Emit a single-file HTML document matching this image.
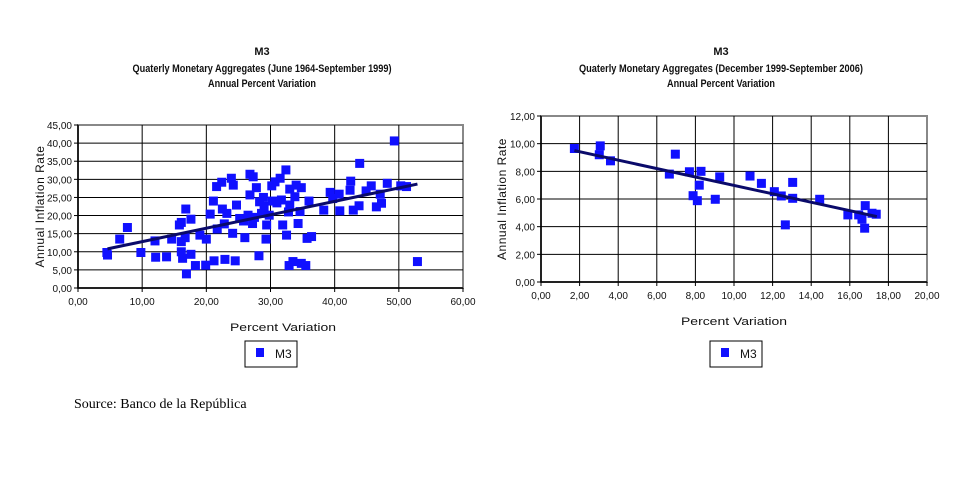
<!DOCTYPE html>
<html><head><meta charset="utf-8"><style>
body{margin:0;background:#fff;width:968px;height:487px;overflow:hidden}
svg{position:absolute;left:0;top:0}
</style></head><body>
<svg id="s" width="968" height="487" font-family="'Liberation Sans', Arial, sans-serif">
<text x="74" y="408" font-family="'Liberation Serif', serif" font-size="14">Source: Banco de la República</text>
</svg>
<script>
// Left chart data
const leftX=[4.6,4.5,6.5,7.7,9.8,12,12.1,13.8,14.6,15.8,16.1,16.8,16.7,16.1,16.1,16.3,16.9,17.6,17.6,18.3,19,20,19.9,20.6,21.1,21.2,21.6,22.4,21.7,22.5,22.8,22.9,23.2,23.9,24.2,24.1,24.5,24.7,25.2,26,26.5,26.8,27.3,26.8,27.2,27.8,28.2,28.3,28.6,29.3,29.4,29.8,30.2,30.3,30.7,31.5,31.7,31.9,32.4,32.5,32.9,33,33,33.5,33.8,34,34.3,34.6,34.8,34.8,35.5,35.7,36,36.4,38.3,39.3,39.7,40.7,40.8,42.5,42.4,42.9,43.8,43.9,44.9,45.7,46.5,47.3,47.1,48.2,49.3,50.3,51.2,52.9,27.5,29,31,32.8,25.8,28.9];
const leftY=[9.1,9.8,13.5,16.7,9.8,13,8.5,8.6,13.5,17.4,18.1,21.8,13.9,12.8,10,8.2,3.9,19,9.3,6.2,14.6,13.5,6.3,20.4,24,7.5,28,29.2,16.3,21.8,17.7,7.9,20.6,30.3,28.4,15.1,7.5,22.9,19.2,13.9,20.1,31.4,30.7,25.7,17.8,27.7,8.9,23.8,20.6,13.5,17.4,20.1,28.2,24,29.3,30.3,24.3,17.4,32.6,14.6,6.2,27.3,22.9,7.3,25.2,28.4,17.8,21.1,27.7,6.8,6.2,13.7,24,14.2,21.5,26.4,24.7,25.9,21.3,29.5,27,21.5,22.7,34.4,26.8,28.2,22.4,23.4,25.9,28.9,40.6,28.2,28,7.3,19.5,22.5,23.5,21,18.5,25];
const leftTrend=[[4.6,10.8],[52.9,28.7]];
const leftXTicks=["0,00","10,00","20,00","30,00","40,00","50,00","60,00"];
const leftYTicks=["0,00","5,00","10,00","15,00","20,00","25,00","30,00","35,00","40,00","45,00"];
// Right chart data
const rightX=[1.73,3.07,3.02,3.6,6.65,6.96,7.69,8.29,8.2,7.88,8.1,9.03,9.26,10.83,11.42,12.09,12.45,13.04,13.04,12.66,14.44,15.9,16.46,16.63,16.8,16.77,17.15,17.37];
const rightY=[9.65,9.84,9.2,8.76,7.8,9.24,7.97,8.0,7.0,6.24,5.88,5.98,7.6,7.66,7.13,6.53,6.22,7.2,6.05,4.13,5.98,4.85,4.85,4.54,5.52,3.89,4.97,4.9];
const rightTrend=[[1.73,9.5],[17.4,4.73]];
const rightXTicks=["0,00","2,00","4,00","6,00","8,00","10,00","12,00","14,00","16,00","18,00","20,00"];
const rightYTicks=["0,00","2,00","4,00","6,00","8,00","10,00","12,00"];

const NS="http://www.w3.org/2000/svg";
const svg=document.getElementById('s');
function mk(tag,attrs,parent){const e=document.createElementNS(NS,tag);for(const k in attrs)e.setAttribute(k,attrs[k]);(parent||svg).appendChild(e);return e;}
function txt(s,attrs,parent){const e=mk('text',attrs,parent);e.textContent=s;return e;}

function chart(o){
  const g=mk('g',{});
  
  
  const sx=v=>o.L+(v-o.xmin)/(o.xmax-o.xmin)*(o.R-o.L);
  const sy=v=>o.B-(v-o.ymin)/(o.ymax-o.ymin)*(o.B-o.T);
  const titles=["M3",o.sub,"Annual Percent Variation"];
  const ty=[55,72,87];
  titles.forEach((t,i)=>{
    const e=txt(t,{x:o.cx,y:ty[i],'text-anchor':'middle','font-size':11,'font-weight':'bold',fill:'#111'},g);
    if(i==1){e.setAttribute('textLength',o.subW);e.setAttribute('lengthAdjust','spacingAndGlyphs');}
    if(i==2){e.setAttribute('textLength',o.sub2W);e.setAttribute('lengthAdjust','spacingAndGlyphs');}
    
    
  });
  mk('rect',{x:o.L,y:o.T,width:o.R-o.L,height:o.B-o.T,fill:'#fff',stroke:'#888','stroke-width':2},g);
  o.xt.forEach((t,i)=>{
    const v=o.xmin+i*o.xstep, x=sx(v);
    if(i>0&&i<o.xt.length-1) mk('line',{x1:x,y1:o.T,x2:x,y2:o.B,stroke:'#000','stroke-width':1},g);
    mk('line',{x1:x,y1:o.B,x2:x,y2:o.B+4,stroke:'#000'},g);
    const e=txt(t,{x:x,y:o.B+17,'text-anchor':'middle','font-size':10,fill:'#111'},g);
    
    
  });
  o.yt.forEach((t,i)=>{
    const v=o.ymin+i*o.ystep, y=sy(v);
    if(i>0&&i<o.yt.length-1) mk('line',{x1:o.L,y1:y,x2:o.R,y2:y,stroke:'#000','stroke-width':1},g);
    mk('line',{x1:o.L-4,y1:y,x2:o.L,y2:y,stroke:'#000'},g);
    const e=txt(t,{x:o.L-6,y:y+4,'text-anchor':'end','font-size':10,fill:'#111'},g);
    
    
  });
  mk('line',{x1:o.L,y1:o.T,x2:o.L,y2:o.B,stroke:'#000','stroke-width':1.5},g);
  mk('line',{x1:o.L,y1:o.B,x2:o.R,y2:o.B,stroke:'#000','stroke-width':1.5},g);
  o.xs.forEach((xv,i)=>{
    const r=mk('rect',{x:sx(xv)-4.5,y:sy(o.ys[i])-4.5,width:9,height:9,fill:'#1010ff'},g);
    
    
  });
  const tl=mk('line',{x1:sx(o.tr[0][0]),y1:sy(o.tr[0][1]),x2:sx(o.tr[1][0]),y2:sy(o.tr[1][1]),stroke:'#0a0a6a','stroke-width':3},g);
  
  
  const xa=txt("Percent Variation",{x:o.xlx,y:o.xly,'text-anchor':'middle','font-size':11,fill:'#111',textLength:106,lengthAdjust:'spacingAndGlyphs'},g);
  
  
  const ya=txt("Annual Inflation Rate",{x:0,y:0,'text-anchor':'middle','font-size':12,fill:'#111','letter-spacing':0.5,transform:`translate(${o.ylx},${(o.T+o.B)/2}) rotate(-90)`},g);
  
  
  const lg=mk('g',{},g);
  
  
  mk('rect',{x:o.lgx,y:341,width:52,height:26,fill:'#fff',stroke:'#000'},lg);
  mk('rect',{x:o.lgx+11,y:348,width:8,height:9,fill:'#1010ff'},lg);
  txt("M3",{x:o.lgx+30,y:358,'font-size':12,fill:'#111'},lg);
}
chart({name:'left-scatter-chart',L:78,R:463,T:125,B:288,xmin:0,xmax:60,xstep:10,ymin:0,ymax:45,ystep:5,
  xt:leftXTicks,yt:leftYTicks,xs:leftX,ys:leftY,tr:leftTrend,cx:262,sub:"Quaterly Monetary Aggregates (June 1964-September 1999)",subW:259,sub2W:108,
  xlx:283,xly:331,ylx:44,lgx:245});
chart({name:'right-scatter-chart',L:541,R:927,T:116,B:282,xmin:0,xmax:20,xstep:2,ymin:0,ymax:12,ystep:2,
  xt:rightXTicks,yt:rightYTicks,xs:rightX,ys:rightY,tr:rightTrend,cx:721,sub:"Quaterly Monetary Aggregates (December 1999-September 2006)",subW:284,sub2W:108,
  xlx:734,xly:325,ylx:506,lgx:710});
</script>
</body></html>
